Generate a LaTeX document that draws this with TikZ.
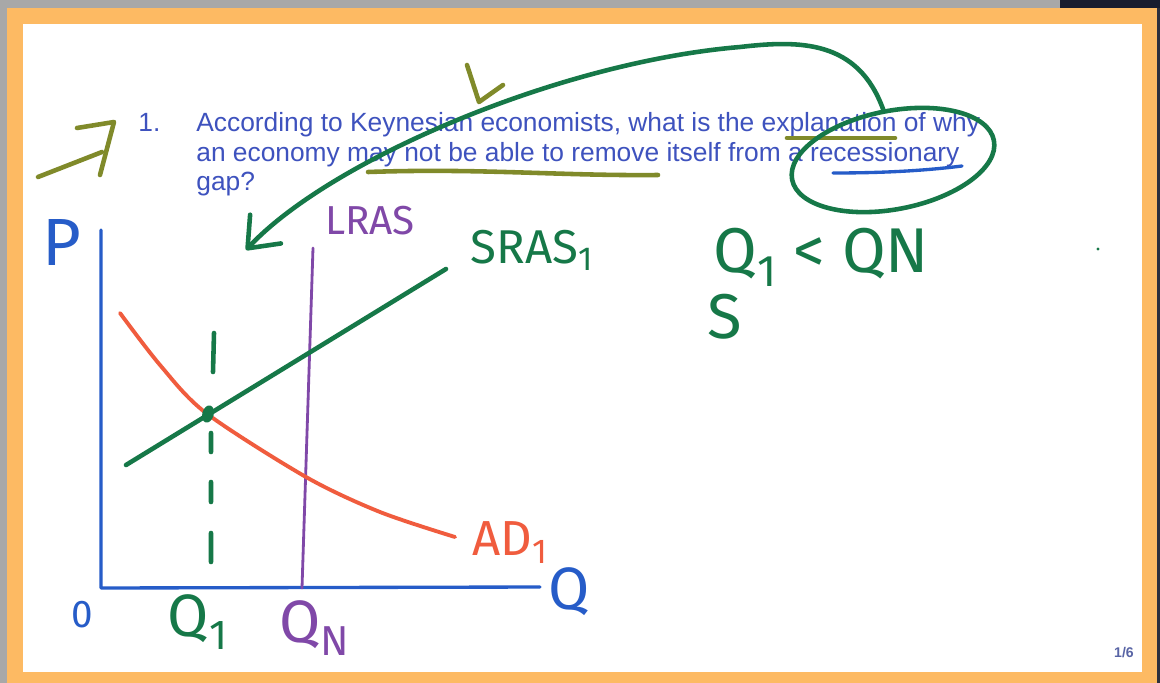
\documentclass[tikz,border=0pt]{standalone}
\usepackage{fontspec}
\setmainfont{Liberation Sans}
\newfontfamily\handfont{Fira Sans}
\usetikzlibrary{arrows.meta, positioning, shapes.geometric}
\definecolor{frameOrange}{RGB}{253,186,99}
\definecolor{edgeGray}{RGB}{168,168,168}
\definecolor{edgeNavy}{RGB}{24,28,46}
\definecolor{slideText}{RGB}{62,82,190}
\definecolor{penGreen}{RGB}{22,120,72}
\definecolor{penOlive}{RGB}{128,138,42}
\definecolor{penBlue}{RGB}{38,92,200}
\definecolor{penPurple}{RGB}{128,72,168}
\definecolor{penRed}{RGB}{240,92,62}

\begin{document}
\begin{tikzpicture}[
  x=0.02cm, y=-0.02cm,
  pen/.style={line width=2.6pt, line cap=round, line join=round},
  thinpen/.style={line width=1.9pt, line cap=round, line join=round},
  question/.style={anchor=base west, inner sep=0pt, text=slideText, font=\fontsize{15}{17}\selectfont},
  hand/.style={inner sep=0pt, font=\handfont\fontsize{#1}{#1}\selectfont},
  hand/.default=30
]
% slide frame
\fill[edgeGray] (0,0) rectangle (1160,683);
\fill[edgeNavy] (1060,0) rectangle (1160,8);
\fill[edgeNavy!80!gray] (1157,8) rectangle (1160,683);
\fill[frameOrange] (7,8) rectangle (1157,683);
\fill[white] (23,24) rectangle (1142,672);
\useasboundingbox (0,0) rectangle (1160,683);

% question
\node[question] (num) at (138,131) {1.};
\node[question] (line1) at (196,131) {According to Keynesian economists, what is the explanation of why};
\node[question] (line2) at (196,161) {an economy may not be able to remove itself from a recessionary};
\node[question] (line3) at (196,190) {gap?};
\node[text=slideText!60!gray, font=\bfseries\fontsize{8}{8}\selectfont, inner sep=1pt] (page) at (1124,653) {1/6};

% highlighter marks
\draw[pen, penOlive] (38,177) -- (102,152);
\draw[pen, penOlive] (77,128) -- (114,122) -- (100,175);
\draw[pen, penOlive] (467,65) -- (479,102) -- (503,85);
\draw[pen, penOlive] (368,172) .. controls (480,168) and (560,176) .. (658,175);
\draw[pen, penOlive] (787,138) -- (895,138);
\draw[thinpen, penBlue] (833,173) .. controls (890,173) and (930,170) .. (962,166);

% circled word and arrow down to the graph
\node[ellipse, draw=penGreen, line width=2.6pt, minimum width=117pt, minimum height=56pt, rotate=11, inner sep=0pt] (circ) at (893,160) {};
\coordinate (graphtip) at (246,250);
\draw[pen, penGreen, -{Straight Barb[length=15pt, width=24pt, round]}] (circ.north) .. controls (858,40) and (800,40) .. (740,47) .. controls (560,62) and (330,160) .. (graphtip);

% axes
\coordinate (ptop) at (101,230);
\coordinate (origin) at (101,588);
\coordinate (qend) at (540,587);
\draw[thinpen, penBlue] (ptop) -- (origin) -- (qend);
\node[hand=38, text=penBlue] (plabel) at (62,242) {P};
\node[hand=34, text=penBlue] (qlabel) at (569,592) {Q};
\node[hand=22, text=penBlue] (zero) at (82,615) {0};

% LRAS
\coordinate (lrastop) at (313,248);
\coordinate (lrasbot) at (302,588);
\draw[thinpen, penPurple, line width=1.6pt] (lrastop) -- (lrasbot);
\node[hand=23, text=penPurple] (lraslabel) at (370,221) {LRAS};
\node[hand=34, text=penPurple] (qnlabel) at (315,628) {Q\textsubscript{N}};

% SRAS
\coordinate (srasA) at (126,465);
\coordinate (srasB) at (446,269);
\draw[pen, penGreen] (srasA) -- (srasB);
\node[hand=27, text=penGreen] (sraslabel) at (532,250) {SRAS\textsubscript{1}};

% AD
\draw[pen, penRed, line width=2.2pt] plot[smooth] coordinates {(120,313) (160,365) (206,413) (306,477) (380,512) (455,537)};
\node[hand=28, text=penRed] (adlabel) at (510,543) {AD\textsubscript{1}};

% equilibrium and Q1
\node[ellipse, fill=penGreen, minimum width=6.5pt, minimum height=10pt, inner sep=0pt, rotate=-15] (eq) at (208,414) {};
\draw[pen, penGreen] (214,333) -- (213,372) (211,433) -- (211,452) (211,482) -- (211,502) (211,533) -- (211,562);
\node[hand=34, text=penGreen] (q1label) at (198,622) {Q\textsubscript{1}};

% notes on the right
\node[hand=36, text=penGreen, anchor=base west] (compare) at (713,272) {Q\textsubscript{1} < QN};
\node[hand=36, text=penGreen, anchor=base west] (sticky) at (707,338) {S};
\fill[penGreen] (1098,249) circle (1.6);
\end{tikzpicture}
\end{document}
